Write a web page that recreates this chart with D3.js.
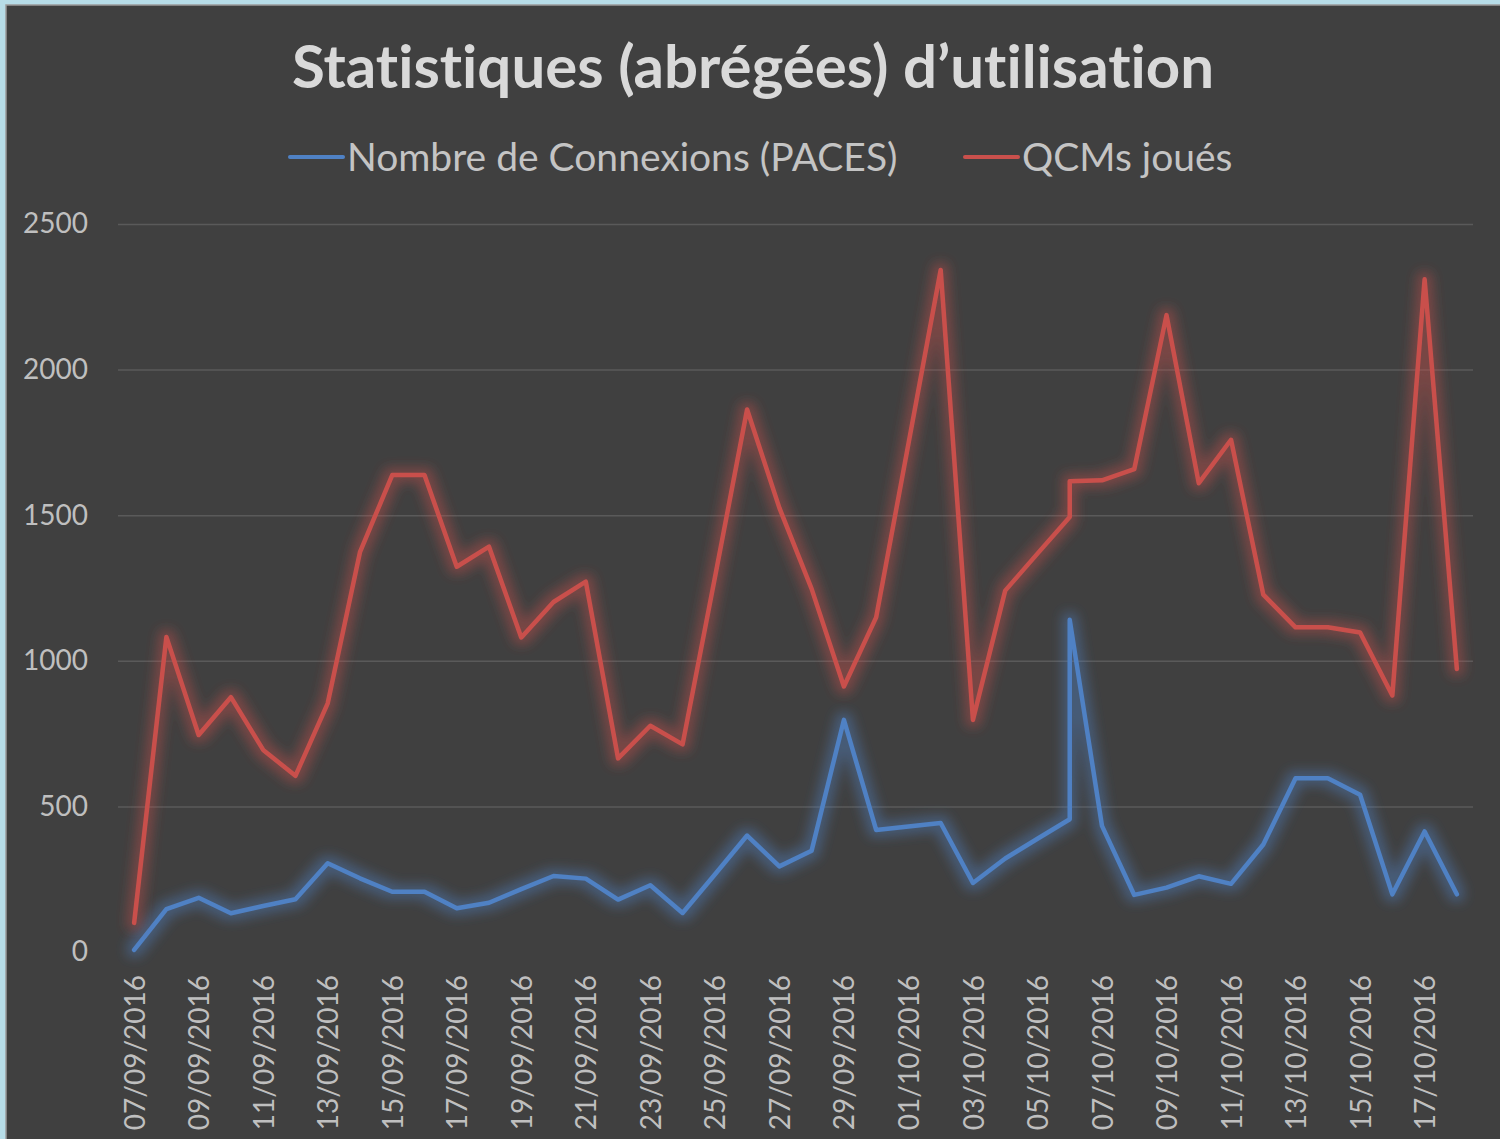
<!DOCTYPE html>
<html>
<head>
<meta charset="utf-8">
<script src="https://cdn.jsdelivr.net/npm/d3@7"></script>
<style>
  html, body { margin: 0; padding: 0; background: #b7dde8; }
  svg { display: block; }
  text { font-variant-ligatures: none; font-feature-settings: "liga" 0, "clig" 0; }
</style>
</head>
<body>
<svg id="chart" width="1500" height="1139"></svg>
<script>
// dates (06/10 appears twice in the source sheet)
const dates = [
  "07/09/2016", "08/09/2016", "09/09/2016", "10/09/2016", "11/09/2016", "12/09/2016",
  "13/09/2016", "14/09/2016", "15/09/2016", "16/09/2016", "17/09/2016", "18/09/2016",
  "19/09/2016", "20/09/2016", "21/09/2016", "22/09/2016", "23/09/2016", "24/09/2016",
  "25/09/2016", "26/09/2016", "27/09/2016", "28/09/2016", "29/09/2016", "30/09/2016",
  "01/10/2016", "02/10/2016", "03/10/2016", "04/10/2016", "05/10/2016", "06/10/2016",
  "06/10/2016", "07/10/2016", "08/10/2016", "09/10/2016", "10/10/2016", "11/10/2016",
  "12/10/2016", "13/10/2016", "14/10/2016", "15/10/2016", "16/10/2016", "17/10/2016",
  "18/10/2016"
];

const connexions = [
  7, 147, 186, 133, 158, 181,
  305, 253, 207, 207, 150, 169,
  216, 261, 252, 180, 229, 134,
  266, 400, 294, 348, 797, 419,
  431, 443, 237, 321, 389, 456,
  1141, 433, 196, 221, 260, 234,
  369, 597, 597, 540, 198, 414,
  198
];

const qcms = [
  100, 1082, 745, 875, 694, 605,
  854, 1373, 1638, 1638, 1323, 1392,
  1080, 1202, 1272, 665, 777, 713,
  1285, 1863, 1525, 1247, 912, 1149,
  1745, 2342, 797, 1241, 1368, 1494,
  1617, 1620, 1658, 2187, 1610, 1759,
  1227, 1115, 1115, 1097, 881, 2310,
  972
];

const yTicks = [0, 500, 1000, 1500, 2000, 2500];

const xTickLabels = [
  "07/09/2016", "09/09/2016", "11/09/2016", "13/09/2016", "15/09/2016", "17/09/2016",
  "19/09/2016", "21/09/2016", "23/09/2016", "25/09/2016", "27/09/2016", "29/09/2016",
  "01/10/2016", "03/10/2016", "05/10/2016", "07/10/2016", "09/10/2016", "11/10/2016",
  "13/10/2016", "15/10/2016", "17/10/2016"
];

const seriesNames = ["Nombre de Connexions (PACES)", "QCMs joués"];
const seriesColors = ["#4f81c4", "#c9504c"];

const title = "Statistiques (abrégées) d\u2019utilisation";

const font = "Lato, 'Open Sans', sans-serif";
const parse = d3.utcParse("%d/%m/%Y");
const halfDay = 12 * 3600 * 1000;

const svg = d3.select("#chart");

// background panel
svg.append("rect")
  .attr("x", 6).attr("y", 5)
  .attr("width", 1500).attr("height", 1200)
  .attr("fill", "#404040")
  .attr("stroke", "#9a9a9a")
  .attr("stroke-width", 1.5);

const plot = { left: 118, right: 1473, top: 224, bottom: 952 };

const first = parse(dates[0]);
const last = parse(dates[dates.length - 1]);

const x = d3.scaleUtc()
  .domain([new Date(+first - halfDay), new Date(+last + halfDay)])
  .range([plot.left, plot.right]);

const y = d3.scaleLinear()
  .domain([0, 2500])
  .range([plot.bottom, plot.top]);

// glow filters
const defs = svg.append("defs");
seriesColors.forEach((c, i) => {
  const f = defs.append("filter")
    .attr("id", `glow${i}`)
    .attr("x", "-20%").attr("y", "-20%")
    .attr("width", "140%").attr("height", "140%");
  f.append("feMorphology")
    .attr("in", "SourceGraphic")
    .attr("operator", "dilate")
    .attr("radius", 5)
    .attr("result", "thick");
  f.append("feGaussianBlur")
    .attr("in", "thick")
    .attr("stdDeviation", 6)
    .attr("result", "blur");
  f.append("feComponentTransfer")
    .attr("in", "blur")
    .attr("result", "soft")
    .append("feFuncA")
    .attr("type", "linear")
    .attr("slope", 0.42);
  const m = f.append("feMerge");
  m.append("feMergeNode").attr("in", "soft");
  m.append("feMergeNode").attr("in", "SourceGraphic");
});

// gridlines
const yAxis = d3.axisLeft(y)
  .tickValues(yTicks)
  .tickFormat(d3.format("d"))
  .tickSize(-(plot.right - plot.left))
  .tickPadding(30);

const gy = svg.append("g")
  .attr("transform", `translate(${plot.left},0)`)
  .call(yAxis);
gy.select(".domain").remove();
gy.selectAll(".tick line")
  .attr("stroke", "#5a5a5a")
  .attr("stroke-width", 1.5)
  .attr("stroke-opacity", d => d === 0 ? 0 : 1);
gy.selectAll(".tick text")
  .attr("fill", "#bfbfbf")
  .style("font-family", font)
  .style("font-size", "28px");

// x axis
const xAxis = d3.axisBottom(x)
  .tickValues(xTickLabels.map(parse))
  .tickFormat(d3.utcFormat("%d/%m/%Y"))
  .tickSize(0);

const gx = svg.append("g")
  .attr("transform", `translate(0,${plot.bottom})`)
  .call(xAxis);
gx.select(".domain").remove();
gx.selectAll(".tick text")
  .attr("fill", "#bfbfbf")
  .style("font-family", font)
  .style("font-size", "28px")
  .attr("text-anchor", "end")
  .attr("transform", "rotate(-90)")
  .attr("x", -23)
  .attr("y", 0)
  .attr("dy", "0.36em");

// lines
const rows = dates.map((d, i) => ({ date: parse(d), v: [connexions[i], qcms[i]] }));

[0, 1].forEach(k => {
  const line = d3.line()
    .x(d => x(d.date))
    .y(d => y(d.v[k]));
  svg.append("path")
    .datum(rows)
    .attr("d", line)
    .attr("fill", "none")
    .attr("stroke", seriesColors[k])
    .attr("stroke-width", 4.5)
    .attr("stroke-linejoin", "round")
    .attr("stroke-linecap", "round")
    .attr("filter", `url(#glow${k})`);
});

// title
svg.append("text")
  .attr("x", 753)
  .attr("y", 88)
  .attr("text-anchor", "middle")
  .attr("fill", "#d9d9d9")
  .style("font-family", font)
  .style("font-weight", "bold")
  .style("font-size", "60px")
  .text(title);

// legend
const legend = [
  { name: seriesNames[0], color: seriesColors[0], x: 290 },
  { name: seriesNames[1], color: seriesColors[1], x: 965 }
];
const lg = svg.append("g");
legend.forEach(l => {
  lg.append("line")
    .attr("x1", l.x).attr("x2", l.x + 53)
    .attr("y1", 157).attr("y2", 157)
    .attr("stroke", l.color)
    .attr("stroke-width", 4)
    .attr("stroke-linecap", "round");
  lg.append("text")
    .attr("x", l.x + 57)
    .attr("y", 171)
    .attr("fill", "#c4c4c4")
    .style("font-family", font)
    .style("font-size", "39px")
    .text(l.name);
});
</script>
</body>
</html>
